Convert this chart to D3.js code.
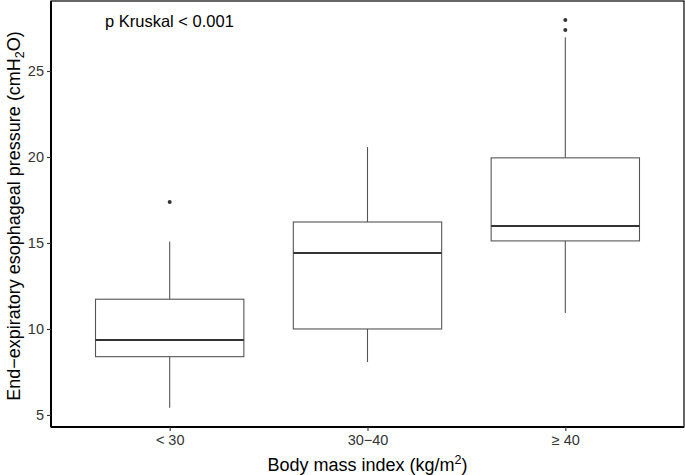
<!DOCTYPE html>
<html><head><meta charset="utf-8">
<script src="https://cdn.jsdelivr.net/npm/d3@7"></script>
<style>body{margin:0;background:#fff;} svg{display:block;font-family:"Liberation Sans",Arial,sans-serif;}</style>
</head><body>
<svg id="c" width="685" height="475"></svg>
<script>
const categories = ["< 30", "30\u221240", "\u2265 40"];
const lowerWhisker = [5.42, 8.08, 10.93];
const q1 = [8.39, 10.0, 15.12];
const median = [9.36, 14.42, 15.99];
const q3 = [11.73, 16.22, 19.95];
const upperWhisker = [15.08, 20.58, 26.96];
const outliers = [[17.38], [], [27.38, 27.97]];
const yTicks = [5, 10, 15, 20, 25];

const svg = d3.select("#c");
const L = 51, R = 684, T = 1, B = 427;
const x = d3.scalePoint().domain(categories).range([L, R]).padding(0.6);
const bw = x.step() * 0.75;
const y = d3.scaleLinear().domain([4.30, 29.07]).range([B, T]);
const data = categories.map((c, i) => ({c, lw: lowerWhisker[i], q1: q1[i], med: median[i], q3: q3[i], uw: upperWhisker[i], out: outliers[i]}));
const boxColor = "#555555";
const g = svg.append("g");
data.forEach(d => {
  const cx = x(d.c);
  g.append("line").attr("x1", cx).attr("x2", cx).attr("y1", y(d.q3)).attr("y2", y(d.uw)).attr("stroke", boxColor).attr("stroke-width", 1.1);
  g.append("line").attr("x1", cx).attr("x2", cx).attr("y1", y(d.q1)).attr("y2", y(d.lw)).attr("stroke", boxColor).attr("stroke-width", 1.1);
  g.append("rect").attr("x", cx - bw / 2).attr("width", bw).attr("y", y(d.q3)).attr("height", y(d.q1) - y(d.q3))
    .attr("fill", "white").attr("stroke", boxColor).attr("stroke-width", 1.1);
  g.append("line").attr("x1", cx - bw / 2).attr("x2", cx + bw / 2).attr("y1", y(d.med)).attr("y2", y(d.med)).attr("stroke", "#333").attr("stroke-width", 2);
  d.out.forEach(o => g.append("circle").attr("cx", cx).attr("cy", y(o)).attr("r", 2).attr("fill", "#333"));
});

// panel border
svg.append("rect").attr("x", L).attr("y", T).attr("width", R - L).attr("height", B - T).attr("fill", "none").attr("stroke", "#000").attr("stroke-width", 1.2);

// axes
const yAxis = svg.append("g").attr("transform", `translate(${L},0)`).call(d3.axisLeft(y).tickValues(yTicks).tickSize(4).tickPadding(3));
const xAxis = svg.append("g").attr("transform", `translate(0,${B})`).call(d3.axisBottom(x).tickSize(4).tickPadding(4));
[yAxis, xAxis].forEach(a => {
  a.select(".domain").attr("stroke", "#000").attr("stroke-width", 2);
  a.selectAll(".tick line").attr("stroke", "#333").attr("stroke-width", 1.1);
  a.selectAll(".tick text").attr("fill", "#333").style("font-size", "14.5px").style("font-family", "Liberation Sans, Arial, sans-serif");
});
yAxis.select(".domain").attr("d", `M0,${T}V${B}`);
xAxis.select(".domain").attr("d", `M${L},0H${R}`);

// annotation
svg.append("text").attr("x", 105).attr("y", 27).text("p Kruskal < 0.001").style("font-size", "16.5px").attr("fill", "#000");

// axis titles
const yt = svg.append("text").attr("transform", `translate(20,${(T + B) / 2 + 2}) rotate(-90)`).attr("text-anchor", "middle").style("font-size", "18px").attr("fill", "#000");
yt.append("tspan").text("End\u2212expiratory esophageal pressure (cmH");
yt.append("tspan").text("2").style("font-size", "12.5px").attr("dy", 4);
yt.append("tspan").text("O)").attr("dy", -4);

const xt = svg.append("text").attr("x", (L + R) / 2).attr("y", 471).attr("text-anchor", "middle").style("font-size", "18px").attr("fill", "#000");
xt.append("tspan").text("Body mass index (kg/m");
xt.append("tspan").text("2").style("font-size", "12.5px").attr("dy", -7);
xt.append("tspan").text(")").attr("dy", 7);
</script>
</body></html>
